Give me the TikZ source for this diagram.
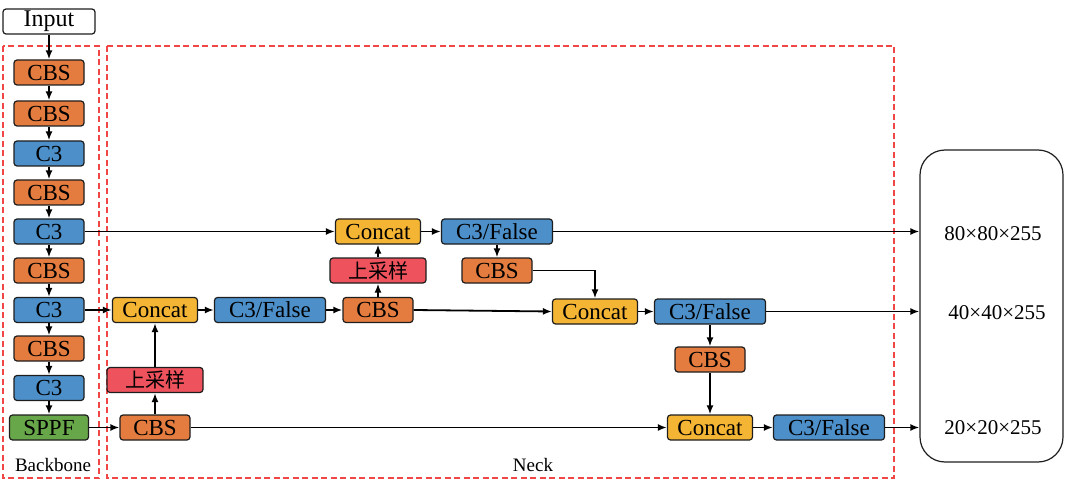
\documentclass[tikz,border=0pt]{standalone}
\usepackage{fontspec}
\setmainfont{Liberation Serif}
\newfontfamily\tms{Liberation Serif}
\newfontfamily\cjk{Noto Sans CJK SC}
\usetikzlibrary{arrows.meta}
\definecolor{cbsc}{RGB}{228,124,64}
\definecolor{c3c}{RGB}{76,143,201}
\definecolor{catc}{RGB}{244,180,52}
\definecolor{upc}{RGB}{238,82,92}
\definecolor{sppfc}{RGB}{104,166,74}
\definecolor{dashred}{RGB}{240,70,70}
\definecolor{edgec}{RGB}{30,30,30}
\tikzset{
  blk/.style={draw=edgec, line width=1.2pt, rounded corners=3pt, minimum height=25pt,
    inner sep=0pt, font=\tms\fontsize{23}{23}\selectfont, text=black},
  cbs/.style={blk, fill=cbsc, minimum width=70pt},
  cthree/.style={blk, fill=c3c, minimum width=70pt},
  cat/.style={blk, fill=catc, minimum width=85pt},
  cfalse/.style={blk, fill=c3c, minimum width=111pt},
  upsm/.style={blk, fill=upc, minimum width=96pt, font=\cjk\fontsize{20}{20}\selectfont},
  conn/.style={line width=1.8pt, -{Latex[length=9pt,width=7pt]}},
  region/.style={draw=dashred, line width=1.1pt, dash pattern=on 6pt off 3.5pt},
  lbl/.style={font=\tms\fontsize{21}{21}\selectfont, inner sep=0pt},
}
\begin{document}
\begin{tikzpicture}[x=1pt,y=-1pt]
\useasboundingbox (0,0) rectangle (1080,492);
% regions
\draw[region] (3,46) rectangle (99,478);
\draw[region] (107,46) rectangle (894,478);
\node[lbl, font=\tms\fontsize{19}{19}\selectfont] (bblabel) at (53,465) {Backbone};
\node[lbl, font=\tms\fontsize{19}{19}\selectfont] (necklabel) at (533,465) {Neck};
% input
\node[blk, fill=white, minimum width=92pt, font=\tms\fontsize{24}{24}\selectfont] (in) at (49,21.5) {Input};
% backbone
\node[cbs] (b1) at (49,72.5) {CBS};
\node[cbs] (b2) at (49,113.5) {CBS};
\node[cthree] (b3) at (49,153.5) {C3};
\node[cbs] (b4) at (49,192.5) {CBS};
\node[cthree] (b5) at (49,231.5) {C3};
\node[cbs] (b6) at (49,270.5) {CBS};
\node[cthree] (b7) at (49,310) {C3};
\node[cbs] (b8) at (49,348.5) {CBS};
\node[cthree] (b9) at (49,388) {C3};
\node[blk, fill=sppfc, minimum width=79pt] (sppf) at (49,427.5) {SPPF};
% neck
\node[cat] (n1) at (155,310) {Concat};
\node[cfalse] (n2) at (270,310) {C3/False};
\node[cbs] (n3) at (378,310) {CBS};
\node[upsm] (up2) at (378,270.5) {上采样};
\node[cat] (ct) at (378,231.5) {Concat};
\node[cfalse] (c3t) at (497,231.5) {C3/False};
\node[cbs] (cbst) at (497,270.5) {CBS};
\node[cat] (cm) at (595,311.5) {Concat};
\node[cfalse] (c3m) at (710,311.5) {C3/False};
\node[cbs] (cbsr) at (710,359.5) {CBS};
\node[cat] (cb) at (710,427.5) {Concat};
\node[cfalse] (c3b) at (829,427.5) {C3/False};
\node[upsm] (up1) at (155,380) {上采样};
\node[cbs] (cbs0) at (155,427.5) {CBS};
% output box
\node[draw=edgec, line width=1.2pt, rounded corners=25pt, minimum width=143pt, minimum height=312pt, inner sep=0pt] (out) at (991.5,306) {};
\node[lbl] (o1) at (993,234) {80×80×255};
\node[lbl] (o2) at (997,313) {40×40×255};
\node[lbl] (o3) at (993,428) {20×20×255};
% backbone connectors
\draw[conn] (in) -- (b1);
\draw[conn] (b1) -- (b2);
\draw[conn] (b2) -- (b3);
\draw[conn] (b3) -- (b4);
\draw[conn] (b4) -- (b5);
\draw[conn] (b5) -- (b6);
\draw[conn] (b6) -- (b7);
\draw[conn] (b7) -- (b8);
\draw[conn] (b8) -- (b9);
\draw[conn] (b9) -- (sppf);
% neck connectors
\draw[conn] (b5.east) -- (ct.west);
\draw[conn] (b7.east) -- (n1.west);
\draw[conn] (sppf.east) -- (cbs0.west);
\draw[conn] (cbs0) -- (up1);
\draw[conn] (up1) -- (n1);
\draw[conn] (n1) -- (n2);
\draw[conn] (n2) -- (n3);
\draw[conn] (n3) -- (up2);
\draw[conn] (up2) -- (ct);
\draw[conn] (ct) -- (c3t);
\draw[conn] (c3t) -- (cbst);
\draw[conn] (cbst.east) -| (cm.north);
\draw[conn] (n3.east) -- (cm.west);
\draw[conn] (cm) -- (c3m);
\draw[conn] (c3m) -- (cbsr);
\draw[conn] (cbsr) -- (cb);
\draw[conn] (cbs0.east) -- (cb.west);
\draw[conn] (cb) -- (c3b);
\draw[conn] (c3t.east) -- (c3t.east -| out.west);
\draw[conn] (c3m.east) -- (c3m.east -| out.west);
\draw[conn] (c3b.east) -- (c3b.east -| out.west);
\end{tikzpicture}
\end{document}
